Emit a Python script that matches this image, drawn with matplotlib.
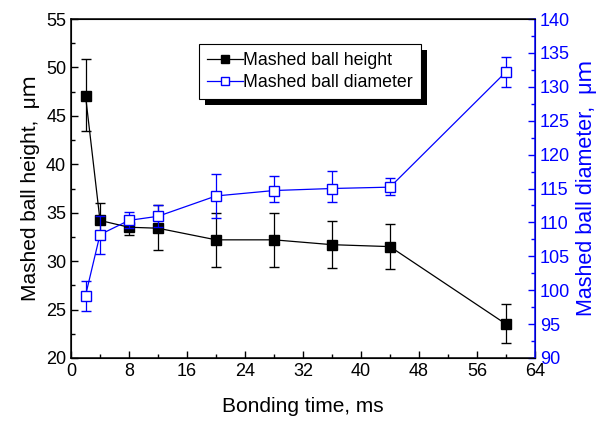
import matplotlib.pyplot as plt
from matplotlib.ticker import MultipleLocator
from matplotlib.lines import Line2D
import matplotlib.patheffects as pe

plt.rcParams['font.family'] = ['Liberation Sans', 'Noto Sans CJK JP']

# bonding time, ms
TIME = [2, 4, 8, 12, 20, 28, 36, 44, 60]

# mashed ball height (left axis)
HEIGHT = [47.1, 34.2, 33.5, 33.4, 32.2, 32.2, 31.7, 31.5, 23.5]
HEIGHT_LO = [43.4, 32.3, 32.7, 31.1, 29.4, 29.4, 29.3, 29.2, 21.6]
HEIGHT_HI = [50.9, 36.0, 34.3, 35.8, 35.0, 35.0, 34.1, 33.8, 25.6]

# mashed ball diameter (right axis)
DIAM = [99.2, 108.2, 110.3, 110.9, 113.9, 114.7, 115.0, 115.2, 132.2]
DIAM_LO = [97.0, 105.3, 109.2, 109.3, 110.7, 113.0, 113.0, 114.0, 129.9]
DIAM_HI = [101.4, 110.9, 111.5, 112.6, 117.2, 116.8, 117.6, 116.6, 134.4]

BLUE = "#0000ff"


def main():
    fig = plt.figure(figsize=(5.99, 4.24), dpi=100)
    ax = fig.add_axes([71 / 599, 1 - 358 / 424, (535 - 71) / 599, (358 - 19) / 424])
    ax2 = ax.twinx()

    h_err = [[h - lo for h, lo in zip(HEIGHT, HEIGHT_LO)],
             [hi - h for h, hi in zip(HEIGHT, HEIGHT_HI)]]
    d_err = [[d - lo for d, lo in zip(DIAM, DIAM_LO)],
             [hi - d for d, hi in zip(DIAM, DIAM_HI)]]

    ax.errorbar(TIME, HEIGHT, yerr=h_err, color="black", marker="s",
                markersize=6.5, linewidth=0.9, elinewidth=0.9, capsize=3.5)
    ax2.errorbar(TIME, DIAM, yerr=d_err, color=BLUE, marker="s",
                 markersize=6.5, markerfacecolor="white", markeredgewidth=1.0,
                 linewidth=0.9, elinewidth=0.9, capsize=3.5)

    ax.set_xlim(0, 64)
    ax.set_ylim(20, 55)
    ax2.set_ylim(90, 140)

    ax.xaxis.set_major_locator(MultipleLocator(8))
    ax.xaxis.set_minor_locator(MultipleLocator(4))
    ax.yaxis.set_major_locator(MultipleLocator(5))
    ax.yaxis.set_minor_locator(MultipleLocator(2.5))
    ax2.yaxis.set_major_locator(MultipleLocator(5))
    ax2.yaxis.set_minor_locator(MultipleLocator(2.5))

    ax.tick_params(axis="both", which="both", direction="in", labelsize=13,
                   top=False)
    ax.tick_params(which="major", length=5, width=1)
    ax.tick_params(which="minor", length=3, width=1)
    ax2.tick_params(axis="y", which="both", direction="in", labelsize=13,
                    colors=BLUE)
    ax2.tick_params(which="major", length=5, width=1)
    ax2.tick_params(which="minor", length=3, width=1)
    ax2.spines["right"].set_color(BLUE)
    for s in ("left", "bottom", "top"):
        ax.spines[s].set_linewidth(1.1)
    ax2.spines["right"].set_linewidth(1.1)

    ax.set_xlabel("Bonding time, ms", fontsize=15, labelpad=12)
    ax.set_ylabel("Mashed ball height,  μｍ", fontsize=15, labelpad=4)
    ax2.set_ylabel("Mashed ball diameter,  μｍ", fontsize=15.5, color=BLUE,
                   labelpad=4)

    handles = [
        Line2D([], [], color="black", marker="s", markersize=6, linewidth=0.9),
        Line2D([], [], color=BLUE, marker="s", markersize=6, linewidth=0.9,
               markerfacecolor="white"),
    ]
    leg = ax2.legend(handles, ["Mashed ball height", "Mashed ball diameter"],
                     loc="upper left", bbox_to_anchor=(128 / 464, 1 - 25 / 339),
                     fontsize=12.8, frameon=True, fancybox=False, shadow=False,
                     framealpha=1, handlelength=2.0, handletextpad=0.05,
                     borderpad=0.45, labelspacing=0.3, borderaxespad=0)
    frame = leg.get_frame()
    frame.set_edgecolor("black")
    frame.set_linewidth(0.8)
    frame.set_path_effects([pe.SimplePatchShadow(offset=(4, -4), shadow_rgbFace="black",
                                                 alpha=1.0), pe.Normal()])

    fig.savefig("out.png", dpi=100)
    plt.close(fig)


if __name__ == "__main__":
    main()
